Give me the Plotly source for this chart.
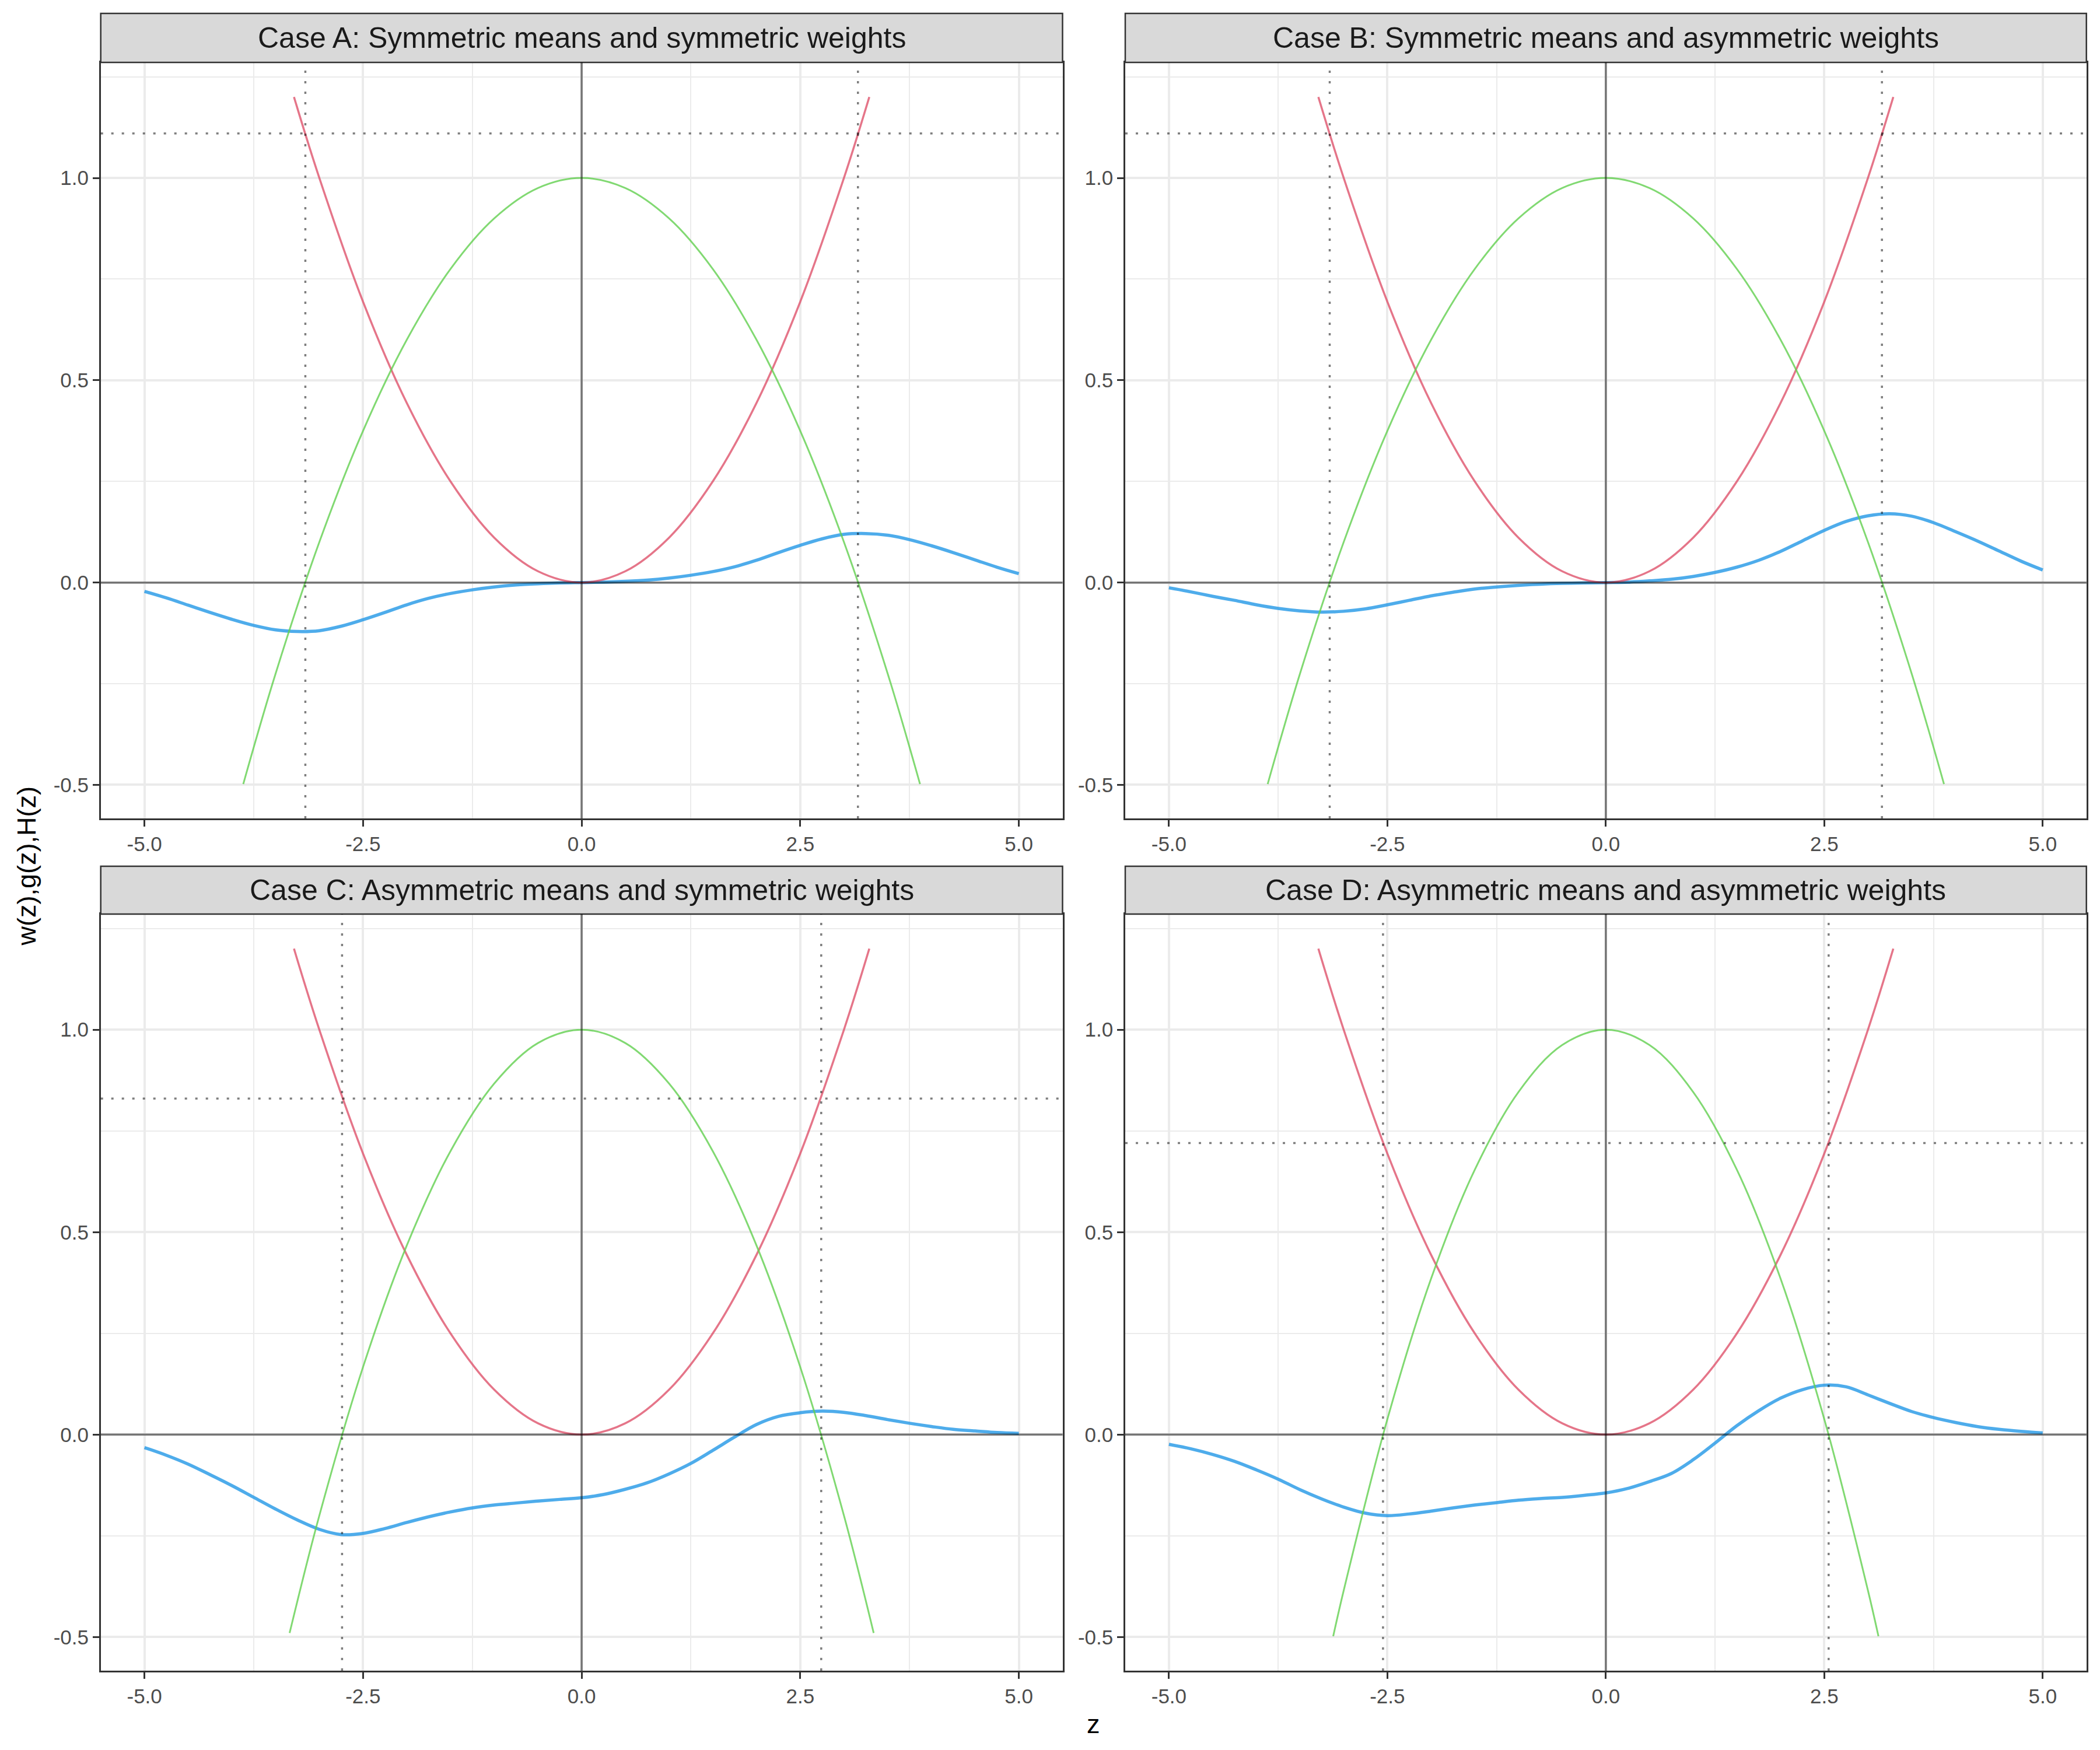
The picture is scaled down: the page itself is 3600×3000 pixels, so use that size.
import plotly.graph_objects as go

# ---------------- data ----------------
panel_titles = [
    "Case A: Symmetric means and symmetric weights",
    "Case B: Symmetric means and asymmetric weights",
    "Case C: Asymmetric means and symmetric weights",
    "Case D: Asymmetric means and asymmetric weights",
]

# H(z) (red) - same in all panels
red_z = [-3.29, -3.0, -2.5, -2.0, -1.5, -1.0, -0.5, 0.0, 0.5, 1.0, 1.5, 2.0, 2.5, 3.0, 3.29]
red_v = [1.20, 1.00, 0.694, 0.444, 0.25, 0.111, 0.028, 0.0, 0.028, 0.111, 0.25, 0.444, 0.694, 1.00, 1.20]

# g(z) (green)
green_z_AB = [-3.87, -3.5, -3.0, -2.5, -2.0, -1.5, -1.0, -0.5, 0.0, 0.5, 1.0, 1.5, 2.0, 2.5, 3.0, 3.5, 3.87]
green_v_AB = [-0.498, -0.225, 0.10, 0.375, 0.60, 0.775, 0.90, 0.975, 1.0, 0.975, 0.90, 0.775, 0.60, 0.375, 0.10, -0.225, -0.498]
green_z_C = [-3.34, -3.0, -2.5, -2.0, -1.5, -1.0, -0.5, 0.0, 0.5, 1.0, 1.5, 2.0, 2.5, 3.0, 3.34]
green_v_C = [-0.49, -0.20, 0.167, 0.467, 0.70, 0.867, 0.967, 1.0, 0.967, 0.867, 0.70, 0.467, 0.167, -0.20, -0.49]
green_z_D = [-3.12, -3.0, -2.5, -2.0, -1.5, -1.0, -0.5, 0.0, 0.5, 1.0, 1.5, 2.0, 2.5, 3.0, 3.12]
green_v_D = [-0.498, -0.385, 0.038, 0.385, 0.654, 0.846, 0.962, 1.0, 0.962, 0.846, 0.654, 0.385, 0.038, -0.385, -0.498]

# w(z) (blue), sampled on z = -5, -4.75, ..., 5
blue_z = [-5.0, -4.75, -4.5, -4.25, -4.0, -3.75, -3.5, -3.25, -3.0, -2.75, -2.5, -2.25, -2.0,
          -1.75, -1.5, -1.25, -1.0, -0.75, -0.5, -0.25, 0.0, 0.25, 0.5, 0.75, 1.0, 1.25, 1.5,
          1.75, 2.0, 2.25, 2.5, 2.75, 3.0, 3.25, 3.5, 3.75, 4.0, 4.25, 4.5, 4.75, 5.0]
blue_v_A = [-0.022, -0.038, -0.056, -0.074, -0.091, -0.106, -0.117, -0.121, -0.119, -0.108, -0.092,
            -0.074, -0.055, -0.039, -0.027, -0.018, -0.011, -0.006, -0.003, -0.001, 0.0,
            0.001, 0.003, 0.006, 0.011, 0.018, 0.027, 0.039, 0.055, 0.074, 0.092,
            0.108, 0.119, 0.121, 0.117, 0.106, 0.091, 0.074, 0.056, 0.038, 0.022]
blue_v_B = [-0.013, -0.023, -0.034, -0.044, -0.055, -0.064, -0.070, -0.073, -0.071, -0.065, -0.055,
            -0.044, -0.033, -0.024, -0.016, -0.011, -0.007, -0.004, -0.002, -0.001, 0.0,
            0.001, 0.004, 0.008, 0.015, 0.025, 0.038, 0.055, 0.077, 0.103, 0.129,
            0.151, 0.165, 0.170, 0.164, 0.148, 0.126, 0.103, 0.078, 0.053, 0.031]
blue_v_C = [-0.032, -0.051, -0.073, -0.099, -0.126, -0.155, -0.184, -0.211, -0.234, -0.247, -0.244,
            -0.232, -0.217, -0.203, -0.191, -0.181, -0.174, -0.169, -0.164, -0.160, -0.156,
            -0.148, -0.135, -0.119, -0.097, -0.071, -0.039, -0.006, 0.025, 0.045, 0.054,
            0.058, 0.055, 0.047, 0.037, 0.028, 0.020, 0.013, 0.009, 0.005, 0.003]
blue_v_D = [-0.024, -0.035, -0.049, -0.066, -0.087, -0.110, -0.136, -0.159, -0.179, -0.194, -0.200,
            -0.196, -0.189, -0.181, -0.174, -0.168, -0.162, -0.158, -0.155, -0.150, -0.144,
            -0.133, -0.116, -0.096, -0.062, -0.021, 0.022, 0.059, 0.090, 0.111, 0.122,
            0.118, 0.098, 0.077, 0.057, 0.042, 0.030, 0.020, 0.013, 0.008, 0.004]

# dotted guide lines
vline_pos = [3.16, 3.16, 2.74, 2.55]
hline_pos = [1.11, 1.11, 0.83, 0.72]

x_tickvals = [-5.0, -2.5, 0.0, 2.5, 5.0]
x_ticktext = ["-5.0", "-2.5", "0.0", "2.5", "5.0"]
y_tickvals = [-0.5, 0.0, 0.5, 1.0]
y_ticktext = ["-0.5", "0.0", "0.5", "1.0"]

panels = [
    (blue_v_A, green_z_AB, green_v_AB),
    (blue_v_B, green_z_AB, green_v_AB),
    (blue_v_C, green_z_C, green_v_C),
    (blue_v_D, green_z_D, green_v_D),
]

# ---------------- layout geometry ----------------
# page has an 8px body margin; figure sized to fit the window without scrolling
OFF = 8
W, H = 3600 - 2 * OFF, 3000 - 2 * OFF


def px_x(v):
    return (v - OFF) / W


def px_y(v):
    return 1 - (v - OFF) / H


x_doms = [[px_x(172.7), px_x(1821.5)], [px_x(1929), px_x(3576.7)]]
y_dom_top = [px_y(1403), px_y(107)]
y_dom_bot = [px_y(2864), px_y(1567)]
strip_top = [px_y(107), px_y(23)]
strip_bot = [px_y(1567), px_y(1485)]

FONT = "Liberation Sans, Arial, Helvetica, sans-serif"
BLUE = "rgba(34,151,230,0.8)"
RED = "rgba(223,83,107,0.8)"
GREEN = "rgba(97,208,79,0.8)"
REFCOL = "rgba(0,0,0,0.5)"

fig = go.Figure()
layout = dict(
    width=W, height=H,
    margin=dict(l=0, r=0, t=0, b=0),
    paper_bgcolor="white", plot_bgcolor="white",
    showlegend=False,
    font=dict(family=FONT),
)
shapes = []
annotations = []

for i, (bv, gz, gv) in enumerate(panels):
    k = i + 1
    xa = f"x{k}" if k > 1 else "x"
    ya = f"y{k}" if k > 1 else "y"
    col = i % 2
    row = i // 2
    xd = x_doms[col]
    yd = y_dom_top if row == 0 else y_dom_bot
    sd = strip_top if row == 0 else strip_bot

    fig.add_trace(go.Scatter(x=blue_z, y=bv, xaxis=xa, yaxis=ya, mode="lines",
                             line=dict(color=BLUE, width=5.5, shape="spline", smoothing=1.0),
                             hoverinfo="skip"))
    fig.add_trace(go.Scatter(x=red_z, y=red_v, xaxis=xa, yaxis=ya, mode="lines",
                             line=dict(color=RED, width=3.5, shape="spline"), hoverinfo="skip"))
    fig.add_trace(go.Scatter(x=gz, y=gv, xaxis=xa, yaxis=ya, mode="lines",
                             line=dict(color=GREEN, width=3, shape="spline"), hoverinfo="skip"))

    axis_common = dict(
        ticks="outside", ticklen=11, tickwidth=3, tickcolor="#333333",
        showgrid=True, gridcolor="#EBEBEB", gridwidth=4,
        showline=True, mirror=True, linecolor="#333333", linewidth=2.5,
        zeroline=False, tickfont=dict(size=35, color="#4D4D4D", family=FONT),
        fixedrange=True,
    )
    layout["xaxis" + (str(k) if k > 1 else "")] = dict(
        domain=xd, anchor=ya, range=[-5.5, 5.5],
        tickmode="array", tickvals=x_tickvals, ticktext=x_ticktext,
        minor=dict(tickvals=[-3.75, -1.25, 1.25, 3.75], showgrid=True,
                   gridcolor="#EBEBEB", gridwidth=2, ticks=""),
        **axis_common)
    layout["yaxis" + (str(k) if k > 1 else "")] = dict(
        domain=yd, anchor=xa, range=[-0.583, 1.2855],
        tickmode="array", tickvals=y_tickvals, ticktext=y_ticktext,
        minor=dict(tickvals=[-0.25, 0.25, 0.75, 1.25], showgrid=True,
                   gridcolor="#EBEBEB", gridwidth=2, ticks=""),
        **axis_common)

    # strip
    shapes.append(dict(type="rect", xref="paper", yref="paper",
                       x0=xd[0], x1=xd[1], y0=sd[0], y1=sd[1],
                       fillcolor="#D9D9D9", line=dict(color="#333333", width=2.5)))
    annotations.append(dict(text=panel_titles[i], xref="paper", yref="paper",
                            x=(xd[0] + xd[1]) / 2, y=(sd[0] + sd[1]) / 2,
                            xanchor="center", yanchor="middle", showarrow=False,
                            font=dict(size=50, color="#1A1A1A", family=FONT)))

    # zero reference lines
    shapes.append(dict(type="line", xref=f"{xa} domain", yref=ya, x0=0, x1=1, y0=0, y1=0,
                       line=dict(color=REFCOL, width=3.5)))
    shapes.append(dict(type="line", xref=xa, yref=f"{ya} domain", x0=0, x1=0, y0=0, y1=1,
                       line=dict(color=REFCOL, width=3.5)))
    # dotted guides
    for sgn in (-1, 1):
        shapes.append(dict(type="line", xref=xa, yref=f"{ya} domain",
                           x0=sgn * vline_pos[i], x1=sgn * vline_pos[i], y0=0, y1=1,
                           line=dict(color=REFCOL, width=3.5, dash="4px,14px")))
    shapes.append(dict(type="line", xref=f"{xa} domain", yref=ya, x0=0, x1=1,
                       y0=hline_pos[i], y1=hline_pos[i],
                       line=dict(color=REFCOL, width=3.5, dash="4px,14px")))

# axis titles
annotations.append(dict(text="z", xref="paper", yref="paper",
                        x=px_x((172.7 + 3576.7) / 2), y=px_y(2955),
                        xanchor="center", yanchor="middle", showarrow=False,
                        font=dict(size=45, color="black", family=FONT)))
annotations.append(dict(text="w(z),g(z),H(z)", xref="paper", yref="paper",
                        x=px_x(45), y=px_y(1485.5), textangle=-90,
                        xanchor="center", yanchor="middle", showarrow=False,
                        font=dict(size=45, color="black", family=FONT)))

layout["shapes"] = shapes
layout["annotations"] = annotations
fig.update_layout(**layout)

fig.write_html("out.html")
